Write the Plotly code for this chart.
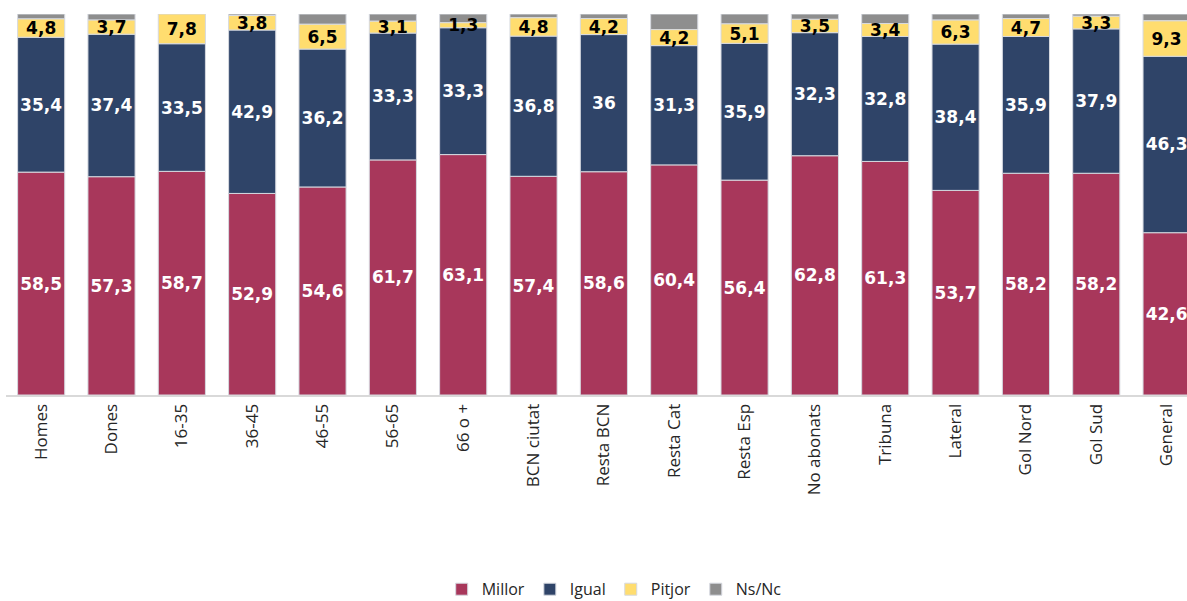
import plotly.graph_objects as go

categories = ["Homes", "Dones", "16-35", "36-45", "46-55", "56-65", "66 o +",
              "BCN ciutat", "Resta BCN", "Resta Cat", "Resta Esp", "No abonats",
              "Tribuna", "Lateral", "Gol Nord", "Gol Sud", "General"]
millor = [58.5, 57.3, 58.7, 52.9, 54.6, 61.7, 63.1, 57.4, 58.6, 60.4, 56.4, 62.8, 61.3, 53.7, 58.2, 58.2, 42.6]
igual = [35.4, 37.4, 33.5, 42.9, 36.2, 33.3, 33.3, 36.8, 36.0, 31.3, 35.9, 32.3, 32.8, 38.4, 35.9, 37.9, 46.3]
pitjor = [4.8, 3.7, 7.8, 3.8, 6.5, 3.1, 1.3, 4.8, 4.2, 4.2, 5.1, 3.5, 3.4, 6.3, 4.7, 3.3, 9.3]
nsnc = [1.3, 1.6, 0.0, 0.4, 2.7, 1.9, 2.3, 1.0, 1.2, 4.1, 2.6, 1.4, 2.5, 1.6, 1.2, 0.6, 1.8]

def fmt(v):
    s = ("%.1f" % v).replace(".", ",")
    if s.endswith(",0"):
        s = s[:-2]
    return s

base_millor = [0.0] * len(categories)
base_igual = list(millor)
base_pitjor = [m + i for m, i in zip(millor, igual)]
base_nsnc = [m + i + p for m, i, p in zip(millor, igual, pitjor)]

# (name, values, base, colour, text colour, show labels, legend rank)
series = [
    ("Ns/Nc", nsnc, base_nsnc, "#8E8E8E", "black", False, 4),
    ("Millor", millor, base_millor, "#A8375B", "white", True, 1),
    ("Igual", igual, base_igual, "#2F4468", "white", True, 2),
    ("Pitjor", pitjor, base_pitjor, "#FFDD6F", "black", True, 3),
]

fig = go.Figure()
for name, vals, base, color, tcolor, show, rank in series:
    fig.add_trace(go.Bar(
        name=name, x=categories, y=vals, base=base,
        legendrank=rank,
        marker=dict(color=color, line=dict(color="#D6D9E0", width=1)),
        text=[fmt(v) for v in vals] if show else None,
        textposition="inside" if show else "none",
        insidetextanchor="middle",
        constraintext="none",
        textangle=0,
        textfont=dict(family="DejaVu Sans, sans-serif", size=17, color=tcolor, weight="bold"),
        hoverinfo="skip",
    ))

fig.update_layout(
    barmode="overlay",
    bargap=0.33,
    width=1187, height=601,
    margin=dict(l=6, r=0, t=14, b=206, autoexpand=False),
    plot_bgcolor="white", paper_bgcolor="white",
    showlegend=True,
    legend=dict(orientation="h", x=0.515, xanchor="center", y=-0.51, yanchor="middle",
                font=dict(family="Open Sans, Noto Sans, sans-serif", size=16, color="#262626"),
                itemwidth=30),
    xaxis=dict(range=[-0.5, 16.29], tickangle=-90,
               tickfont=dict(family="Open Sans, Noto Sans, sans-serif", size=17, color="#262626"),
               showline=True, linecolor="#D9D9D9", linewidth=2, ticks="", showgrid=False),
    yaxis=dict(range=[0, 100], visible=False, showgrid=False),
)

fig.write_html("out.html", config={"displayModeBar": False},
               post_script="document.body.style.margin='0';")
